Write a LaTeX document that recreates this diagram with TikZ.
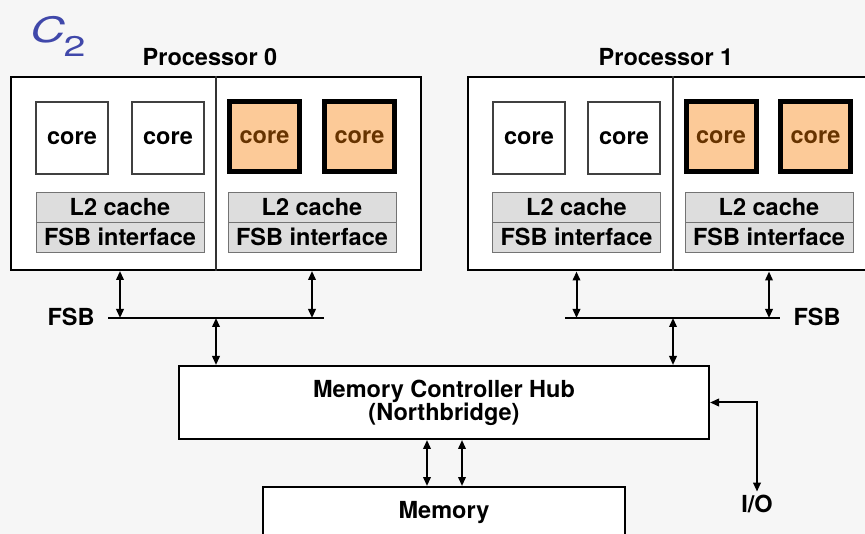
\documentclass[tikz,border=0pt]{standalone}
\usepackage{fontspec}
\setmainfont{TeX Gyre Heros}
\usepackage{tikz}
\usepackage{xcolor}
\definecolor{BgGray}{RGB}{246,246,246}
\definecolor{CoreOrange}{RGB}{252,202,152}
\definecolor{CoreBrown}{RGB}{102,51,0}
\definecolor{CacheGray}{RGB}{221,221,221}
\definecolor{TitleBlue}{RGB}{64,72,170}
\usetikzlibrary{positioning, arrows.meta, calc}

\begin{document}
\begin{tikzpicture}[x=1pt, y=-1pt,
  every node/.style={font=\fontsize{23.5}{23}\selectfont\bfseries},
  procbox/.style={rectangle, draw=black, line width=2pt, fill=white, minimum width=410pt, minimum height=193pt},
  corebox/.style={rectangle, draw=black!75, line width=1.3pt, fill=white, minimum width=72pt, minimum height=72pt, inner sep=0pt},
  hotcore/.style={rectangle, draw=black, line width=5pt, fill=CoreOrange, text=CoreBrown, minimum width=70pt, minimum height=70pt, inner sep=0pt},
  cachebox/.style={rectangle, draw=black!55, line width=0.9pt, fill=CacheGray, minimum width=168pt, minimum height=30pt, inner sep=0pt},
  hubbox/.style={rectangle, draw=black, line width=2pt, fill=white, align=center},
  bus/.style={line width=2pt},
  biarrow/.style={{Triangle[length=9pt,width=7.5pt]}-{Triangle[length=9pt,width=7.5pt]}, line width=2pt}
]
\useasboundingbox[fill=BgGray] (0,0) rectangle (865,534);

% Title
\node[anchor=base west, inner sep=0pt, text=TitleBlue, font=\fontsize{35}{35}\selectfont] (title) at (30,43)
  {\scalebox{1.38}[1]{\itshape C\kern-1pt\raisebox{-14pt}{\upshape\fontsize{28.5}{28.5}\selectfont 2}}};

% Processor 0
\node at (210,57) (lbl0) {Processor 0};
\node[procbox] (p0) at (216,173.5) {};
\draw[black!80, line width=1.2pt] (p0.north) -- (p0.south);
\node[corebox] (c00) at (72,138) {core};
\node[corebox] (c01) at (168,138) {core};
\node[hotcore] (c02) at (264.5,137) {core};
\node[hotcore] (c03) at (359.5,137) {core};
\node[cachebox] (l200) at (120,207) {L2 cache};
\node[cachebox] (if00) at (120,237) {FSB interface};
\node[cachebox] (l201) at (312,207) {L2 cache};
\node[cachebox] (if01) at (312,237) {FSB interface};

% Processor 1
\node at (666,57) (lbl1) {Processor 1};
\node[procbox] (p1) at (673,174) {};
\draw[black!80, line width=1.2pt] (p1.north) -- (p1.south);
\node[corebox] (c10) at (529,138) {core};
\node[corebox] (c11) at (624,138) {core};
\node[hotcore] (c12) at (721,137) {core};
\node[hotcore] (c13) at (815.5,137) {core};
\node[cachebox] (l210) at (576.5,207) {L2 cache};
\node[cachebox] (if10) at (576.5,237) {FSB interface};
\node[cachebox] (l211) at (769,207) {L2 cache};
\node[cachebox] (if11) at (769,237) {FSB interface};

% Front side buses
\coordinate (bus0w) at (108,318);
\coordinate (bus0e) at (324,318);
\coordinate (bus1w) at (565,318);
\coordinate (bus1e) at (780,318);
\draw[bus] (bus0w) -- (bus0e);
\draw[bus] (bus1w) -- (bus1e);
\node (fsb0) at (71,317) {FSB};
\node (fsb1) at (817,317) {FSB};

% Hub and memory
\node[hubbox, minimum width=530pt, minimum height=73pt] (mch) at (444,402.5) {Memory Controller Hub\\(Northbridge)};
\node[hubbox, anchor=north, minimum width=362pt, inner ysep=14pt, text depth=40pt] (mem) at (444,486) {Memory};
\node (io) at (757,504) {I/O};

% Arrows
\draw[biarrow] (if00 |- p0.south) -- (if00 |- bus0w);
\draw[biarrow] (if01 |- p0.south) -- (if01 |- bus0w);
\draw[biarrow] (if10 |- p1.south) -- (if10 |- bus1w);
\draw[biarrow] (if11 |- p1.south) -- (if11 |- bus1w);
\draw[biarrow] (p0.south |- bus0w) -- (p0.south |- mch.north);
\draw[biarrow] (p1.south |- bus1w) -- (p1.south |- mch.north);
\draw[biarrow] ($(mch.south)+(-17,0)$) -- ($(mem.north)+(-17,0)$);
\draw[biarrow] ($(mch.south)+(18,0)$) -- ($(mem.north)+(18,0)$);
\draw[biarrow] (mch.east) -| (io.north);

\end{tikzpicture}
\end{document}
